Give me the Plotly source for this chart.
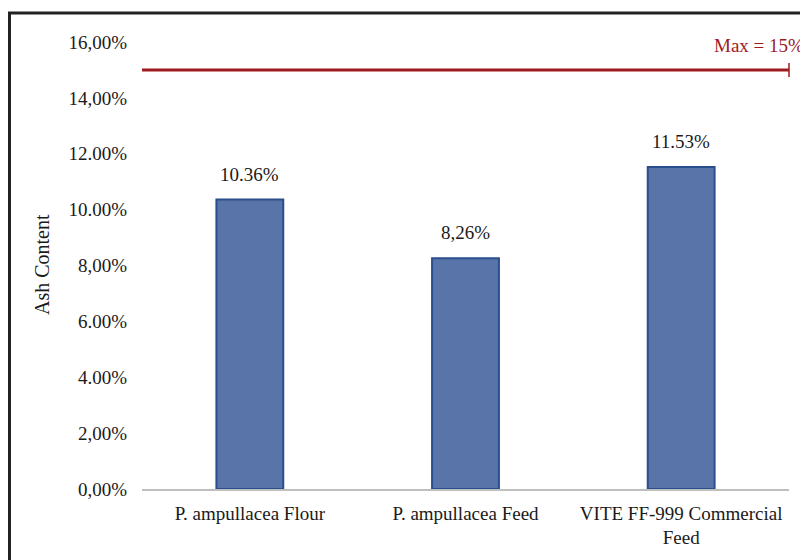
import plotly.graph_objects as go

categories = ["P. ampullacea Flour", "P. ampullacea Feed", "VITE FF-999 Commercial<br>Feed"]
values = [10.36, 8.26, 11.53]
value_labels = ["10.36%", "8,26%", "11.53%"]
tick_vals = [0, 2, 4, 6, 8, 10, 12, 14, 16]
tick_text = ["0,00%", "2,00%", "4.00%", "6.00%", "8,00%", "10.00%", "12.00%", "14,00%", "16,00%"]
max_value = 15
max_label = "Max = 15%"
y_title = "Ash Content"

# page body has an 8px margin; the figure is shifted accordingly
OFF = 8
W, H = 808 - OFF, 560 - OFF
L, R, T, B = 142 - OFF, 19, 42 - OFF, 71
pw, ph = W - L - R, H - T - B

def px(x):
    return (x - OFF - L) / pw

def py(y):
    return (H - B - (y - OFF)) / ph

font = "Liberation Serif, Times New Roman, serif"
txt = "#1a1a1a"
fs = 19

fig = go.Figure()
fig.add_trace(go.Bar(
    x=categories, y=values, width=0.31,
    marker=dict(color="#5874A8", line=dict(color="#2B4F8C", width=2)),
))

# value labels above bars
for c, v, t in zip(categories, values, value_labels):
    fig.add_annotation(x=c, y=v, text=t, xref="x", yref="y", showarrow=False,
                       yanchor="bottom", yshift=13,
                       font=dict(family=font, size=fs, color=txt))

fig.update_layout(
    width=W, height=H,
    margin=dict(l=L, r=R, t=T, b=B),
    paper_bgcolor="white", plot_bgcolor="white",
    showlegend=False,
    font=dict(family=font, size=fs, color=txt),
)
fig.update_xaxes(
    showline=True, linecolor="#BFBFBF", linewidth=1.5,
    showgrid=False, ticks="", ticklabelstandoff=6,
    tickfont=dict(family=font, size=fs, color=txt),
)
fig.update_yaxes(
    range=[0, 16], tickvals=tick_vals, ticktext=tick_text,
    showgrid=False, zeroline=False, showline=False, ticks="",
    ticklabelstandoff=14,
    tickfont=dict(family=font, size=fs, color=txt),
)

# max reference line
fig.add_shape(type="line", xref="x domain", yref="y", x0=0, x1=1, y0=max_value, y1=max_value,
              line=dict(color="#9E1A1E", width=3))
fig.add_shape(type="line", xref="x domain", yref="y", x0=1, x1=1,
              y0=max_value - 0.25, y1=max_value + 0.25,
              line=dict(color="#9E1A1E", width=1.5))
fig.add_annotation(text=max_label, xref="paper", yref="y", x=px(806), y=15.88,
                   xanchor="right", yanchor="middle", showarrow=False,
                   font=dict(family=font, size=fs, color="#9E1A1E"))

# y-axis title
fig.add_annotation(text=y_title, xref="paper", yref="paper", x=px(42), y=py(265),
                   xanchor="center", yanchor="middle", textangle=-90, showarrow=False,
                   font=dict(family=font, size=20, color=txt))

# frame (top and left borders)
fig.add_shape(type="line", xref="paper", yref="paper", x0=px(8), x1=px(812), y0=py(13), y1=py(13),
              line=dict(color="#222222", width=3))
fig.add_shape(type="line", xref="paper", yref="paper", x0=px(9.5), x1=px(9.5), y0=py(12), y1=py(565),
              line=dict(color="#222222", width=3))

fig.write_html("out.html")
